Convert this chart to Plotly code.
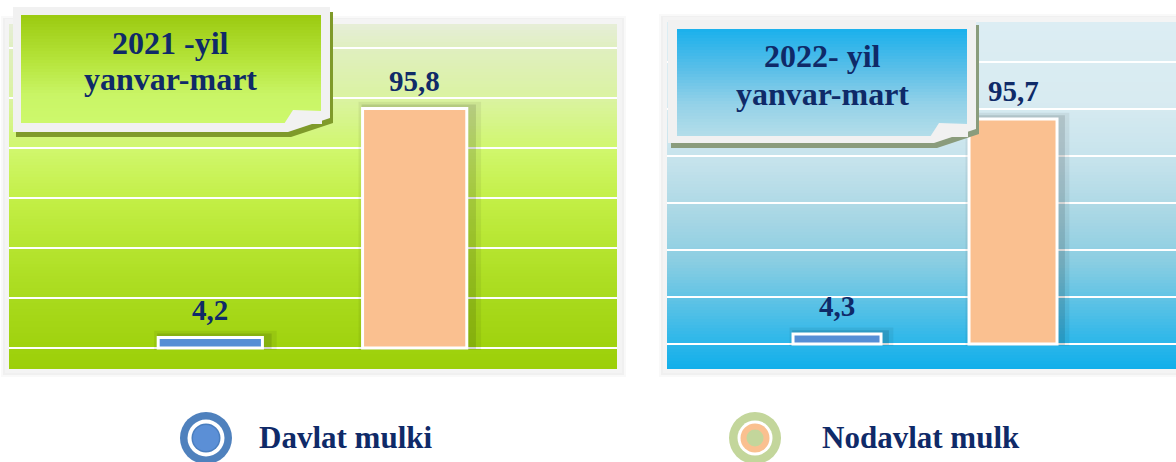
import plotly.graph_objects as go

# ---------------- data ----------------
categories = ["Davlat mulki", "Nodavlat mulk"]
period_line1 = ["2021 -yil", "2022- yil"]
period_line2 = ["yanvar-mart", "yanvar-mart"]
values_2021 = [4.2, 95.8]
values_2022 = [4.3, 95.7]
tick_vals = [0, 20, 40, 60, 80, 100, 120]

# ---------------- styling ----------------
W, H = 1176, 462
NAVY = "#0f2a68"
FONT = "Liberation Serif, Times New Roman, serif"
BAR_COLORS = ["#558ed5", "#fac090"]


def px(x):
    return x / W


def py(y):
    return 1 - y / H


def hex2rgb(h):
    h = h.lstrip("#")
    return [int(h[i:i + 2], 16) for i in (0, 2, 4)]


def color_at(stops, y):
    if y <= stops[0][0]:
        return stops[0][1]
    for (ya, ca), (yb, cb) in zip(stops[:-1], stops[1:]):
        if ya <= y <= yb:
            t = (y - ya) / (yb - ya) if yb > ya else 0
            a, b = hex2rgb(ca), hex2rgb(cb)
            c = [round(a[k] + (b[k] - a[k]) * t) for k in range(3)]
            return "rgb(%d,%d,%d)" % tuple(c)
    return stops[-1][1]


shapes = []


def rect(x0, y0, x1, y1, color, layer="below"):
    shapes.append(dict(type="rect", xref="paper", yref="paper",
                       x0=px(x0), x1=px(x1), y0=py(y1), y1=py(y0),
                       fillcolor=color, line=dict(width=0), layer=layer))


def poly(points, color, layer="above"):
    path = "M " + " L ".join("%.5f,%.5f" % (px(a), py(b)) for a, b in points) + " Z"
    shapes.append(dict(type="path", xref="paper", yref="paper", path=path,
                       fillcolor=color, line=dict(width=0), layer=layer))


def gradient(x0, y0, x1, y1, stops, layer, step=3):
    y = y0
    while y < y1:
        yb = min(y + step, y1)
        rect(x0, y, x1, min(yb + 0.6, y1), color_at(stops, (y + yb) / 2), layer)
        y = yb


panels = [
    dict(xa="x", ya="y", box=(9, 24, 617, 369),
         xrange=[-0.985, 1.99], yrange=[-8.4, 129.6], width=0.51,
         values=values_2021,
         stops=[(24, "#e6eed8"), (48, "#e0efc0"), (100, "#daf3a0"), (150, "#d0f76c"),
                (200, "#c3ef46"), (250, "#b5e42e"), (300, "#a8da1c"), (369, "#9ccf08")],
         tbox=(13, 7, 330, 132), tinner=(21, 15, 321, 123),
         tstops=[(15, "#9bca10"), (60, "#b5e43a"), (95, "#c9f566"), (123, "#cdf86c")],
         tshadow="#7f9a2a", text_xy=(170, 43, 79)),
    dict(xa="x2", ya="y2", box=(667, 22, 1176, 369),
         xrange=[-0.966, 1.926], yrange=[-10.6, 137], width=0.5,
         values=values_2022,
         stops=[(22, "#dcedf3"), (100, "#d8ebf1"), (160, "#c6e3ec"), (210, "#acd8e5"),
                (260, "#8ccee2"), (300, "#5fc3e5"), (344, "#2ab6ea"), (369, "#12afea")],
         tbox=(668, 20, 976, 143), tinner=(677, 29, 967, 136),
         tstops=[(29, "#1ab0ec"), (70, "#5bbfe8"), (105, "#95d2e8"), (136, "#b3dde9")],
         tshadow="#8a9c7c", text_xy=(822, 56, 94)),
]

fig = go.Figure()
annotations = []

for p in panels:
    x0, y0, x1, y1 = p["box"]
    # soft outer shadow + frame
    rect(x0 - 8, y0 - 8, x1 + 9, y1 + 8, "rgba(0,0,0,0.025)")
    rect(x0 - 6, y0 - 6, x1 + 7, y1 + 6, "rgba(0,0,0,0.035)")
    rect(x0 - 4, y0 - 5, x1 + 5, y1 + 4, "#f4f4f4")
    gradient(x0, y0, x1, y1, p["stops"], "below")

    # bars: shadows then main bar
    w = p["width"]
    vals = p["values"]
    fig.add_trace(go.Bar(x=categories, y=[v + 3.5 for v in vals], base=-0.8,
                         width=w + 0.09, offset=-w / 2 - 0.02,
                         marker=dict(color="rgba(0,0,0,0.06)", line=dict(width=0)),
                         xaxis=p["xa"], yaxis=p["ya"], hoverinfo="skip", showlegend=False))
    fig.add_trace(go.Bar(x=categories, y=[v + 2.0 for v in vals], base=-0.4,
                         width=w + 0.05, offset=-w / 2 - 0.005,
                         marker=dict(color="rgba(0,0,0,0.11)", line=dict(width=0)),
                         xaxis=p["xa"], yaxis=p["ya"], hoverinfo="skip", showlegend=False))
    fig.add_trace(go.Bar(x=categories, y=vals, width=w, offset=-w / 2,
                         marker=dict(color=BAR_COLORS, line=dict(color="white", width=3)),
                         xaxis=p["xa"], yaxis=p["ya"], showlegend=False))
    for c, v in zip(categories, vals):
        annotations.append(dict(xref=p["xa"], yref=p["ya"], x=c, y=v,
                                text="<b>%s</b>" % ("%.1f" % v).replace(".", ","),
                                showarrow=False, yanchor="middle", yshift=28,
                                font=dict(family=FONT, size=29, color=NAVY)))

    # title callout box
    bx0, by0, bx1, by1 = p["tbox"]
    ix0, iy0, ix1, iy1 = p["tinner"]
    cut = [(bx0, by0), (bx1, by0), (bx1, by1 - 14), (bx1 - 42, by1), (bx0, by1)]
    poly([(a + 3, b + 5) for a, b in cut], p["tshadow"])
    poly(cut, "#f1f1f1")
    gradient(ix0, iy0, ix1, iy1, p["tstops"], "above")
    poly([(ix1 - 37, iy1 + 1), (ix1 - 28, iy1 - 13), (ix1 + 1, iy1 - 12), (ix1 + 1, iy1 + 1)], "#f1f1f1")

for i, p in enumerate(panels):
    tx, t1, t2 = p["text_xy"]
    annotations.append(dict(xref="paper", yref="paper", x=px(tx), y=py(t1),
                            text="<b>%s</b>" % period_line1[i], showarrow=False,
                            xanchor="center", yanchor="middle",
                            font=dict(family=FONT, size=32, color=NAVY)))
    annotations.append(dict(xref="paper", yref="paper", x=px(tx), y=py(t2),
                            text="<b>%s</b>" % period_line2[i], showarrow=False,
                            xanchor="center", yanchor="middle",
                            font=dict(family=FONT, size=32, color=NAVY)))

# ---------------- legend (custom, concentric rings) ----------------
legend_layers = [
    [("#4f81bd", 52), ("#ffffff", 37), ("#4a7ebf", 29), ("#5b8fd6", 26)],
    [("#c3d69b", 52), ("#ffffff", 35), ("#fac090", 29), ("#c3d69b", 17)],
]
for i, layers in enumerate(legend_layers):
    for col, size in layers:
        fig.add_trace(go.Scatter(x=[categories[i]], y=[0], mode="markers",
                                 marker=dict(color=col, size=size, line=dict(width=0)),
                                 cliponaxis=False, xaxis="x3", yaxis="y3",
                                 hoverinfo="skip", showlegend=False))
legend_text_shift = [51, 65]
for i, c in enumerate(categories):
    annotations.append(dict(xref="x3", yref="y3", x=c, y=0, xanchor="left",
                            yanchor="middle", xshift=legend_text_shift[i], yshift=1,
                            text="<b>%s</b>" % c, showarrow=False,
                            font=dict(family=FONT, size=31, color=NAVY)))

axis_off = dict(showticklabels=False, ticks="", showline=False, zeroline=False,
                fixedrange=True)
p1, p2 = panels
fig.update_layout(
    width=W, height=H, margin=dict(l=0, r=0, t=0, b=0),
    paper_bgcolor="white", plot_bgcolor="rgba(0,0,0,0)",
    barmode="overlay", showlegend=False, hovermode=False,
    xaxis=dict(domain=[px(p1["box"][0]), px(p1["box"][2])], range=p1["xrange"],
               showgrid=False, **axis_off),
    yaxis=dict(domain=[py(p1["box"][3]), py(p1["box"][1])], range=p1["yrange"],
               tickvals=tick_vals, showgrid=True, gridcolor="white", gridwidth=2,
               **axis_off),
    xaxis2=dict(domain=[px(p2["box"][0]), px(p2["box"][2])], range=p2["xrange"],
                showgrid=False, anchor="y2", **axis_off),
    yaxis2=dict(domain=[py(p2["box"][3]), py(p2["box"][1])], range=p2["yrange"],
                tickvals=tick_vals, showgrid=True, gridcolor="white", gridwidth=2,
                anchor="x2", **axis_off),
    xaxis3=dict(domain=[0, 1], range=[-0.3752, 1.7668], showgrid=False,
                anchor="y3", **axis_off),
    yaxis3=dict(domain=[0, py(414)], range=[-1, 1], showgrid=False,
                anchor="x3", **axis_off),
    shapes=shapes,
    annotations=annotations,
)

fig.write_html(
    "out.html",
    config={"displayModeBar": False, "staticPlot": True},
    post_script="document.body.style.margin='0';document.body.style.overflow='hidden';",
)
